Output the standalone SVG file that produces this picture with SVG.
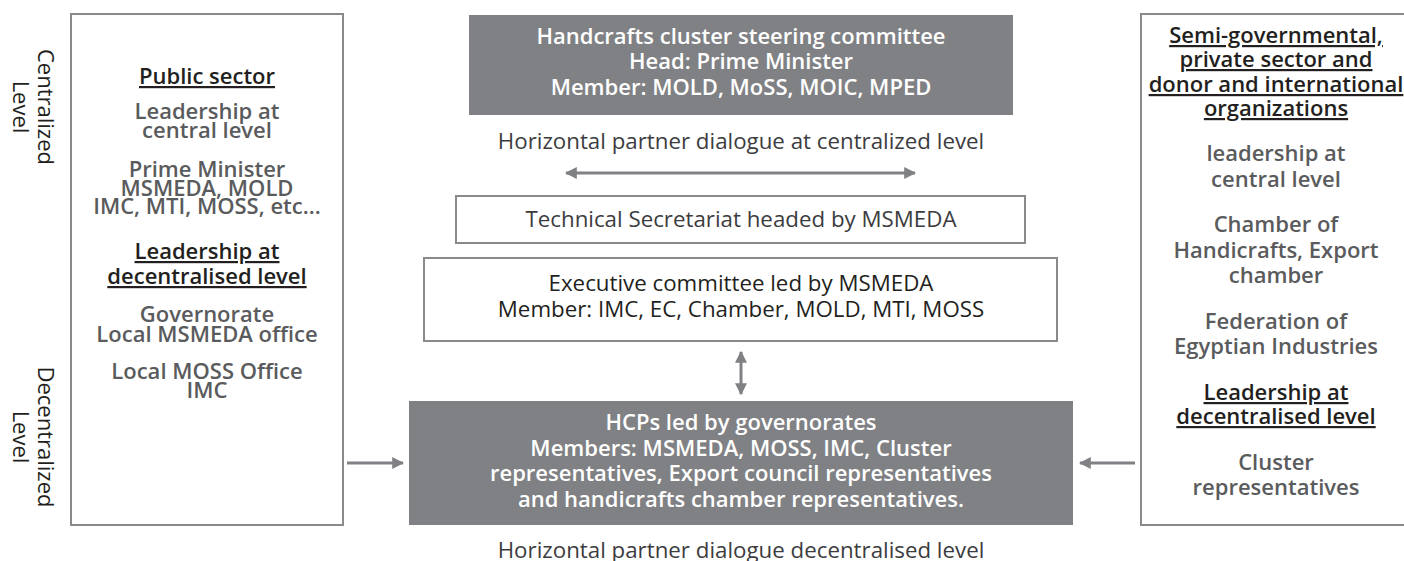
<svg xmlns="http://www.w3.org/2000/svg" width="1404" height="561" viewBox="0 0 1404 561">
<style>
text{font-family:"Open Sans","Liberation Sans",sans-serif;text-anchor:middle}
.b{font-weight:600;font-size:22px}
.h{fill:#231f20;text-decoration:underline}
.g{fill:#5a5b5d}
.w{fill:#ffffff}
.r{font-size:22.3px;fill:#3c3c3e}
.side{font-size:22px;fill:#231f20}
.box{fill:#ffffff;stroke:#8a8a8d;stroke-width:2}
.dark{fill:#808184}
.con{stroke:#808184;stroke-width:3;fill:none}
</style>
<defs>
<marker id="ah" viewBox="0 0 10 10" refX="9" refY="5" markerWidth="4" markerHeight="4" orient="auto-start-reverse" markerUnits="strokeWidth">
<path d="M0,0 L10,5 L0,10 z" fill="#808184"/>
</marker>
</defs>
<rect width="1404" height="561" fill="#ffffff"/>
<g id="level-labels">
<text class="side" transform="translate(38,107) rotate(90)">Centralized</text>
<text class="side" transform="translate(13,107) rotate(90)">Level</text>
<text class="side" transform="translate(38,437) rotate(90)">Decentralized</text>
<text class="side" transform="translate(13,437) rotate(90)">Level</text>
</g>
<g id="public-sector">
<rect class="box" x="71" y="14" width="272" height="511"/>
<text class="b h" x="207" y="84">Public sector</text>
<text class="b g" x="207" y="119">Leadership at</text>
<text class="b g" x="207" y="138">central level</text>
<text class="b g" x="207" y="177">Prime Minister</text>
<text class="b g" x="207" y="196">MSMEDA, MOLD</text>
<text class="b g" x="207" y="214">IMC, MTI, MOSS, etc...</text>
<text class="b h" x="207" y="259">Leadership at</text>
<text class="b h" x="207" y="284">decentralised level</text>
<text class="b g" x="207" y="322">Governorate</text>
<text class="b g" x="207" y="342">Local MSMEDA office</text>
<text class="b g" x="207" y="379">Local MOSS Office</text>
<text class="b g" x="207" y="398">IMC</text>
</g>
<g id="private-sector">
<rect class="box" x="1141" y="14" width="272" height="511"/>
<text class="b h" x="1276" y="43">Semi-governmental,</text>
<text class="b h" x="1276" y="67">private sector and</text>
<text class="b h" x="1276" y="92">donor and international</text>
<text class="b h" x="1276" y="116">organizations</text>
<text class="b g" x="1276" y="161">leadership at</text>
<text class="b g" x="1276" y="187">central level</text>
<text class="b g" x="1276" y="232">Chamber of</text>
<text class="b g" x="1276" y="258">Handicrafts, Export</text>
<text class="b g" x="1276" y="283">chamber</text>
<text class="b g" x="1276" y="329">Federation of</text>
<text class="b g" x="1276" y="354">Egyptian Industries</text>
<text class="b h" x="1276" y="400">Leadership at</text>
<text class="b h" x="1276" y="424">decentralised level</text>
<text class="b g" x="1276" y="470">Cluster</text>
<text class="b g" x="1276" y="495">representatives</text>
</g>
<g id="steering-committee">
<rect class="dark" x="469" y="15" width="544" height="100"/>
<text class="b w" x="741" y="44">Handcrafts cluster steering committee</text>
<text class="b w" x="741" y="69">Head: Prime Minister</text>
<text class="b w" x="741" y="95">Member: MOLD, MoSS, MOIC, MPED</text>
</g>
<g id="label-centralized">
<text class="r" x="741" y="149">Horizontal partner dialogue at centralized level</text>
</g>
<g id="technical-secretariat">
<rect class="box" x="456" y="196" width="569" height="47"/>
<text class="r" x="741" y="227">Technical Secretariat headed by MSMEDA</text>
</g>
<g id="executive-committee">
<rect class="box" x="424" y="258" width="633" height="83"/>
<text class="r" x="741" y="291" style="fill:#231f20">Executive committee led by MSMEDA</text>
<text class="r" x="741" y="317" style="fill:#231f20">Member: IMC, EC, Chamber, MOLD, MTI, MOSS</text>
</g>
<g id="hcps">
<rect class="dark" x="409" y="401" width="664" height="124"/>
<text class="b w" x="741" y="430">HCPs led by governorates</text>
<text class="b w" x="741" y="456">Members: MSMEDA, MOSS, IMC, Cluster</text>
<text class="b w" x="741" y="481">representatives, Export council representatives</text>
<text class="b w" x="741" y="507">and handicrafts chamber representatives.</text>
</g>
<g id="label-decentralized">
<text class="r" x="741" y="558">Horizontal partner dialogue decentralised level</text>
</g>
<g id="connectors">
<line class="con" x1="566" y1="173" x2="915" y2="173" marker-start="url(#ah)" marker-end="url(#ah)"/>
<line class="con" x1="741" y1="352" x2="741" y2="394" marker-start="url(#ah)" marker-end="url(#ah)"/>
<line class="con" x1="347" y1="463" x2="403" y2="463" marker-end="url(#ah)"/>
<line class="con" x1="1135" y1="463" x2="1080" y2="463" marker-end="url(#ah)"/>
</g>
</svg>
